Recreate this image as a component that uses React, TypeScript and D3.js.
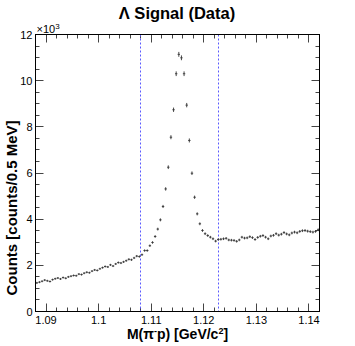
import React from "react";
import * as d3 from "d3";

const width = 355;
const height = 346;
const margin = { top: 34, right: 36, bottom: 35, left: 35 };

// histogram: 108 bins of 0.5 MeV from 1.088 to 1.142 GeV
const xMin = 1.088;
const binWidth = 0.0005;
const nBins = 108;

// counts in thousands
const sideband1 = [
  1.24, 1.27, 1.31, 1.36, 1.33, 1.3, 1.38, 1.42, 1.45, 1.41,
  1.47, 1.44, 1.5, 1.53, 1.56, 1.55, 1.62, 1.6, 1.66, 1.7,
  1.68, 1.75, 1.8, 1.78, 1.85, 1.9, 1.95, 1.93, 2.02, 1.97,
  2.06, 2.12, 2.1, 2.15, 2.2, 2.26, 2.24, 2.32, 2.4, 2.38,
];
const peak = [
  2.46, 2.64, 2.64, 2.85, 2.99, 3.25, 3.57, 3.97, 4.55, 5.31,
  6.25, 7.55, 8.74, 10.3, 11.14, 10.99, 10.3, 8.94, 7.41, 5.99,
  4.95, 4.23, 3.8,
];
const sideband2 = [
  3.51, 3.37, 3.29, 3.22, 3.15, 3.05, 3.12, 3.13, 3.15, 3.17,
  3.1, 3.09, 3.08, 3.04, 3.1, 3.22, 3.18, 3.19, 3.24, 3.2,
  3.12, 3.21, 3.26, 3.29, 3.22, 3.15, 3.27, 3.3, 3.37, 3.31,
  3.35, 3.42, 3.36, 3.32, 3.4, 3.44, 3.41, 3.47, 3.5, 3.51,
  3.48, 3.46, 3.44, 3.47, 3.54,
];
const windowEdges = [1.108, 1.1228];
const xTicks = [1.09, 1.1, 1.11, 1.12, 1.13, 1.14];
const yTicks = [0, 2, 4, 6, 8, 10, 12];

const counts = [...sideband1, ...peak, ...sideband2].map((v) => v * 1000);

const font = "'Liberation Sans', Arial, Helvetica, sans-serif";

export default function App() {
  const innerW = width - margin.left - margin.right;
  const innerH = height - margin.top - margin.bottom;
  const x = d3.scaleLinear().domain([xMin, xMin + nBins * binWidth]).range([0, innerW]);
  const y = d3.scaleLinear().domain([0, 12000]).range([innerH, 0]);

  const xMinor = d3.range(1.088, 1.1421, 0.002);
  const yMinor = d3.range(0, 12001, 500);

  return (
    <svg
      width={width}
      height={height}
      style={{ position: "absolute", left: 0, top: 0, background: "#fff" }}
      fontFamily={font}
    >
      <text x={177} y={19} textAnchor="middle" fontSize={16.5} fontWeight="bold">
        Λ Signal (Data)
      </text>
      <g transform={`translate(${margin.left + 0.5},${margin.top + 0.5})`}>
        {/* minor ticks */}
        {xMinor.map((t, i) => (
          <g key={"xm" + i} stroke="#444">
            <line x1={Math.round(x(t))} x2={Math.round(x(t))} y1={innerH} y2={innerH - 4} />
            <line x1={Math.round(x(t))} x2={Math.round(x(t))} y1={0} y2={4} />
          </g>
        ))}
        {yMinor.map((t, i) => (
          <g key={"ym" + i} stroke="#444">
            <line x1={0} x2={4} y1={Math.round(y(t))} y2={Math.round(y(t))} />
            <line x1={innerW} x2={innerW - 4} y1={Math.round(y(t))} y2={Math.round(y(t))} />
          </g>
        ))}
        {xTicks.map((t) => (
          <g key={"x" + t}>
            <line x1={Math.round(x(t))} x2={Math.round(x(t))} y1={innerH} y2={innerH - 8} stroke="#444" />
            <line x1={Math.round(x(t))} x2={Math.round(x(t))} y1={0} y2={8} stroke="#444" />
            <text x={x(t)} y={innerH + 12.5} textAnchor="middle" fontSize={11}>
              {d3.format(".2~f")(t)}
            </text>
          </g>
        ))}
        {yTicks.map((t) => (
          <g key={"y" + t}>
            <line x1={0} x2={8} y1={Math.round(y(t * 1000))} y2={Math.round(y(t * 1000))} stroke="#444" />
            <line x1={innerW} x2={innerW - 8} y1={Math.round(y(t * 1000))} y2={Math.round(y(t * 1000))} stroke="#444" />
            <text x={-3} y={y(t * 1000) + 4} textAnchor="end" fontSize={11}>
              {t}
            </text>
          </g>
        ))}
        <text x={1} y={-2} fontSize={11}>
          ×10<tspan dy={-4} fontSize={8}>3</tspan>
        </text>
        {/* signal window */}
        {windowEdges.map((e) => (
          <line
            key={e}
            x1={Math.round(x(e))}
            x2={Math.round(x(e))}
            y1={0}
            y2={innerH}
            stroke="#5a5aff"
            strokeDasharray="2,2"
          />
        ))}
        {/* data points with errors */}
        {counts.map((c, i) => {
          const cx = x(xMin + (i + 0.5) * binWidth);
          const half = Math.max(1, y(c) - y(c + Math.sqrt(c)));
          return (
            <g key={i} stroke="#333" strokeWidth={0.9}>
              <line x1={cx - 1.2} x2={cx + 1.2} y1={y(c)} y2={y(c)} />
              <line x1={cx} x2={cx} y1={y(c) - half} y2={y(c) + half} />
            </g>
          );
        })}
        <rect x={0} y={0} width={innerW} height={innerH} fill="none" stroke="#000" />
      </g>
      <text x={177.5} y={339} textAnchor="middle" fontSize={14} fontWeight="bold">
        M(π<tspan dy={-5} fontSize={9}>-</tspan>
        <tspan dy={5}>p) [GeV/c</tspan>
        <tspan dy={-5} fontSize={9}>2</tspan>
        <tspan dy={5}>]</tspan>
      </text>
      <text
        transform="translate(17,208) rotate(-90)"
        textAnchor="middle"
        fontSize={15}
        fontWeight="bold"
      >
        Counts [counts/0.5 MeV]
      </text>
    </svg>
  );
}
